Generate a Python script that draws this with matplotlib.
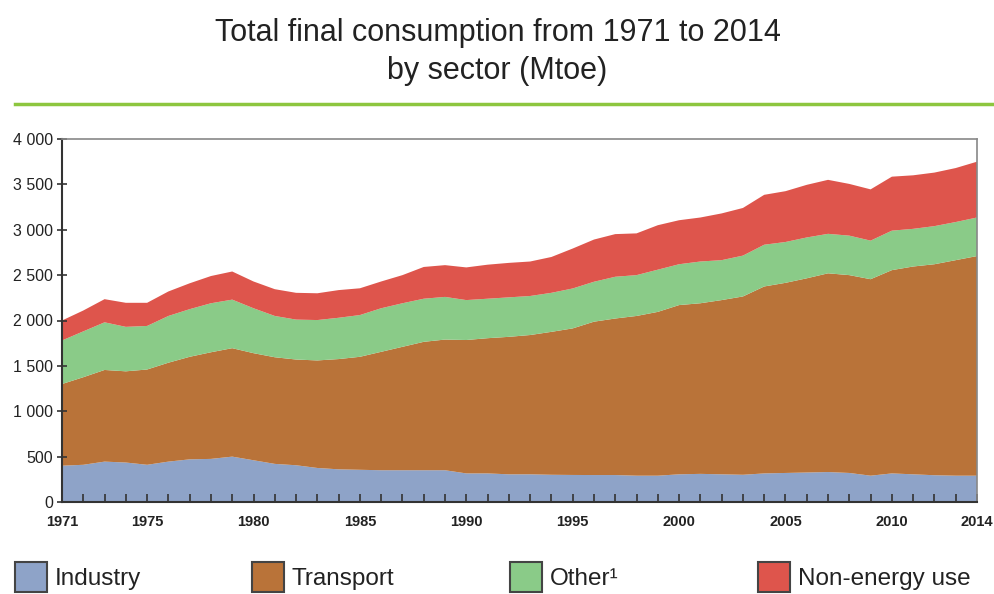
import numpy as np
import matplotlib
matplotlib.use('Agg')
from matplotlib import pyplot as plt
from matplotlib.patches import Rectangle
from matplotlib.lines import Line2D

plt.rcParams['font.family'] = ['Liberation Sans', 'DejaVu Sans']

years = list(range(1971, 2015))

industry = [400, 410, 445, 435, 410, 445, 470, 475, 500, 460,
            420, 405, 375, 360, 355, 350, 350, 350, 350, 315,
            315, 305, 305, 300, 298, 297, 297, 290, 290, 305,
            310, 305, 300, 315, 320, 325, 330, 320, 290, 315,
            305, 295, 290, 290]
transport = [900, 965, 1010, 1005, 1050, 1090, 1130, 1175, 1195, 1180,
             1175, 1165, 1185, 1215, 1245, 1305, 1360, 1415, 1440, 1470,
             1490, 1515, 1535, 1575, 1615, 1690, 1725, 1760, 1805, 1865,
             1880, 1920, 1965, 2060, 2095, 2140, 2190, 2180, 2165, 2240,
             2290, 2325, 2375, 2420]
other = [480, 505, 525, 490, 480, 515, 525, 540, 535, 495,
         455, 440, 445, 455, 460, 480, 480, 475, 470, 440,
         435, 435, 430, 430, 440, 440, 460, 450, 465, 450,
         460, 440, 450, 460, 450, 450, 435, 435, 425, 435,
         415, 420, 420, 425]
non_energy = [220, 230, 255, 265, 255, 270, 285, 300, 310, 295,
              295, 295, 295, 305, 295, 295, 310, 350, 350, 360,
              375, 380, 380, 395, 440, 465, 470, 460, 490, 485,
              485, 515, 525, 550, 560, 580, 595, 570, 565, 595,
              590, 590, 595, 615]

labels = ['Industry', 'Transport', 'Other\u00b9', 'Non-energy use']
colors = ['#8EA3C8', '#B97339', '#8ACB88', '#DE554C']
labelled_years = [1971, 1975, 1980, 1985, 1990, 1995, 2000, 2005, 2010, 2014]

W, H = 995, 594
fig = plt.figure(figsize=(W / 100, H / 100), dpi=100)
ax = fig.add_axes([62 / W, 1 - 502 / H, (977 - 62) / W, (502 - 139) / H])

ax.stackplot(years, industry, transport, other, non_energy,
             colors=colors, linewidth=0)
ax.set_xlim(1971, 2014)
ax.set_ylim(0, 4000)

yt = np.arange(0, 4001, 500)
ax.set_yticks(yt)
ax.set_yticklabels([f'{v:,}'.replace(',', ' ') for v in yt], fontsize=11.5,
                   color='#222222')
ax.set_xticks(years)
ax.set_xticklabels([str(y) if y in labelled_years else '' for y in years],
                   fontsize=10.5, fontweight='bold', color='#222222')
ax.tick_params(axis='x', direction='in', length=6, width=1.2,
               color='#333333', pad=9)
ax.tick_params(axis='y', direction='inout', length=7, width=1.2,
               color='#333333', pad=3)

for side in ['left', 'bottom']:
    ax.spines[side].set_color('#333333')
    ax.spines[side].set_linewidth(1.5)
for side in ['top', 'right']:
    ax.spines[side].set_color('#888888')
    ax.spines[side].set_linewidth(1.2)

fig.text(0.5, 1 - 33 / H, 'Total final consumption from 1971 to 2014',
         ha='center', va='center', fontsize=22, color='#222222')
fig.text(0.5, 1 - 71 / H, 'by sector (Mtoe)',
         ha='center', va='center', fontsize=22, color='#222222')
fig.add_artist(Line2D([15 / W, 1], [1 - 104 / H, 1 - 104 / H],
                      color='#8DC63F', linewidth=2.5))

# legend drawn by hand, items are not evenly spaced
box_x = [15, 252, 510, 758]
for x0, lab, col in zip(box_x, labels, colors):
    fig.add_artist(Rectangle((x0 / W, 1 - 592 / H), 32 / W, 30 / H,
                             facecolor=col, edgecolor='#444444',
                             linewidth=1.5, transform=fig.transFigure))
    fig.text((x0 + 40) / W, 1 - 579 / H, lab, ha='left', va='center',
             fontsize=17.5, color='#222222')

fig.savefig('out.png', dpi=100)
